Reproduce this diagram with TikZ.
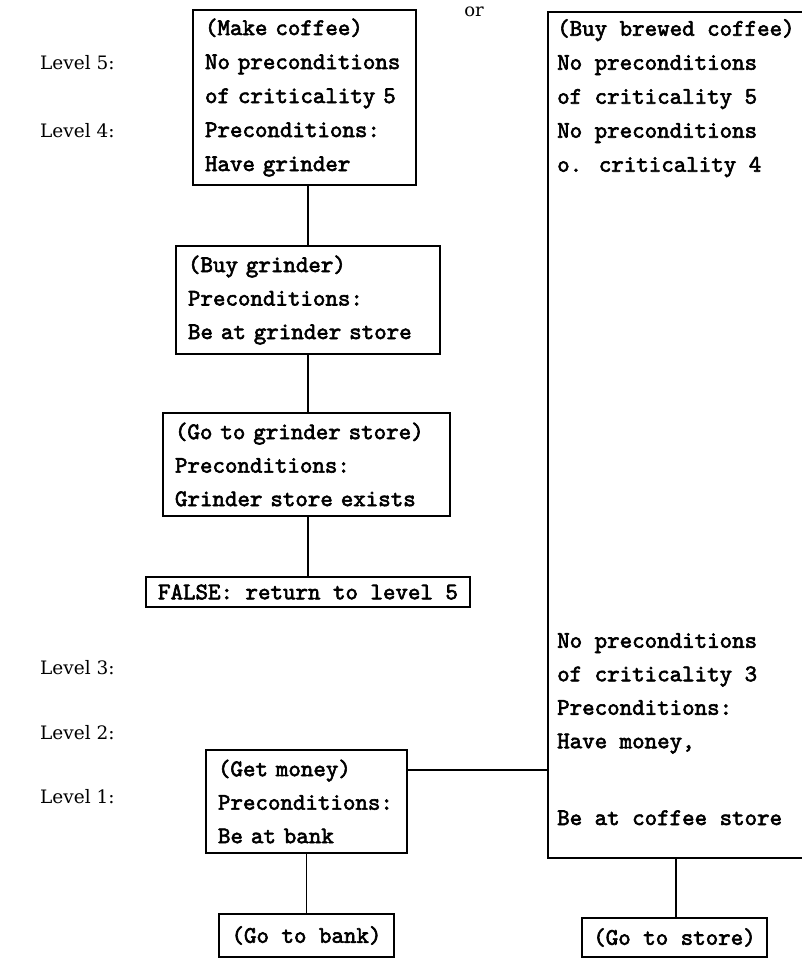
\documentclass[tikz,border=0pt]{standalone}
\usepackage{fontspec}
\newfontfamily\lvlfont{DejaVu Serif}
\newfontfamily\ttb{lmmono10-regular.otf}[FakeBold=2.5]
\begin{document}
\begin{tikzpicture}[x=1pt,y=-1pt,
  tt/.style={font=\ttb\fontsize{23.8}{33.5}\selectfont},
  box/.style={tt,draw,line width=1.9pt,align=left,inner xsep=12pt,inner ysep=0pt,anchor=center},
  lvl/.style={font=\lvlfont\fontsize{18.5}{22}\selectfont,anchor=west,inner sep=0pt},
  con/.style={line width=1.9pt}]
\useasboundingbox (0,0) rectangle (801,961);

% level labels
\node[lvl] (l5) at (40,63) {Level 5:};
\node[lvl] (l4) at (40,131) {Level 4:};
\node[lvl] (l3) at (40,668) {Level 3:};
\node[lvl] (l2) at (40,733) {Level 2:};
\node[lvl] (l1) at (40,797) {Level 1:};
\node[font=\lvlfont\fontsize{18}{20}\selectfont,inner sep=0pt] (or) at (474,12) {or};

% left column
\node[box,minimum width=223pt,minimum height=175pt,text width=199pt,font=\ttb\fontsize{23.8}{34}\selectfont] (make) at (304.5,97.5)
  {(Make coffee)\\No preconditions\\of criticality 5\\Preconditions:\\Have grinder};
\node[box,minimum width=264pt,minimum height=108pt,text width=240pt] (buyg) at (308,300)
  {(Buy grinder)\\Preconditions:\\Be at grinder store};
\node[box,minimum width=287pt,minimum height=103pt,text width=263pt] (gogs) at (306.5,464.5)
  {(Go to grinder store)\\Preconditions:\\Grinder store exists};
\node[box,align=center,inner xsep=0pt,minimum width=324pt,minimum height=30pt] (false) at (308,592)
  {FALSE: return to level 5};
\node[box,minimum width=201pt,minimum height=103pt,text width=177pt] (money) at (306.5,801.5)
  {(Get money)\\Preconditions:\\Be at bank};
\node[box,align=center,inner xsep=0pt,minimum width=175pt,minimum height=43pt] (bank) at (306.5,935.5)
  {(Go to bank)};

% right column
\node[draw,line width=1.9pt,minimum width=267pt,minimum height=846pt,inner sep=0pt] (brew) at (681.5,435) {};
\node[font=\ttb\fontsize{23.8}{34}\selectfont,align=left,anchor=north west,inner sep=0pt] (brewt) at (557,19)
  {(Buy brewed coffee)\\No preconditions\\of criticality 5\\No preconditions\\o. criticality 4};
\node[tt,align=left,anchor=north west,inner sep=0pt] (brewl) at (557,633)
  {No preconditions\\of criticality 3\\Preconditions:\\Have money,};
\node[tt,anchor=base west,inner sep=0pt] (brewb) at (557,825) {Be at coffee store};
\node[box,align=center,inner xsep=0pt,minimum width=185pt,minimum height=39pt] (store) at (674.5,937.5)
  {(Go to store)};

% connectors
\coordinate (cx) at (308,0);
\draw[con] (make.south -| cx) -- (buyg.north -| cx);
\draw[con] (buyg.south -| cx) -- (gogs.north -| cx);
\draw[con] (gogs.south -| cx) -- (false.north -| cx);
\draw[con] (money.east |- 0,770) -- (brew.west |- 0,770);
\draw[con] (money.south) -- (bank.north);
\coordinate (sx) at (676,0);
\draw[con] (brew.south -| sx) -- (store.north -| sx);
\end{tikzpicture}
\end{document}
